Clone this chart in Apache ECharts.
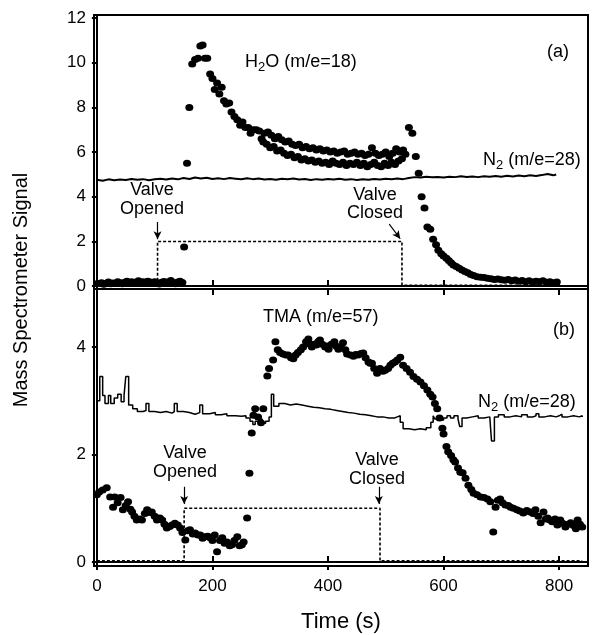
<!DOCTYPE html>
<html><head><meta charset="utf-8">
<script src="https://cdn.jsdelivr.net/npm/echarts@6/dist/echarts.min.js"></script>
<style>html,body{margin:0;padding:0;background:#fff}#c{width:592px;height:635px}</style>
</head><body><div id="c"></div>
<script>
// ---- tick values ----
const xTicks = [0, 200, 400, 600, 800];
const topYTicks = [0, 2, 4, 6, 8, 10, 12];
const botYTicks = [0, 2, 4];

// ---- (a) H2O (m/e=18) signal: [time, signal] ----
const h2oPoints = [
 [0,0.10],[4,0.12],[8,0.15],[12,0.08],[16,0.13],[20,0.18],[24,0.10],[28,0.14],[32,0.12],[36,0.20],
 [40,0.15],[44,0.10],[48,0.17],[52,0.22],[56,0.14],[60,0.19],[64,0.12],[68,0.18],[72,0.24],[76,0.16],
 [80,0.20],[84,0.13],[88,0.22],[92,0.18],[96,0.12],[100,0.20],[104,0.15],[108,0.09],[112,0.17],[116,0.21],
 [120,0.13],[124,0.19],[128,0.25],[132,0.15],[136,0.10],[140,0.18],[144,0.22],[148,0.16],
 [151,1.75],[156,5.5],[160,8.0],[165,9.95],[170,10.15],[175,10.2],[179,10.75],[183,10.8],[187,10.2],[191,10.2],
 [196,9.5],[200,9.3],[204,8.8],[208,9.1],[212,8.6],[216,8.9],[220,8.3],[224,8.15],[229,8.2],[233,7.8],
 [238,7.6],[243,7.45],[248,7.2],[252,7.35],[257,7.1],[262,7.1],[266,6.85],[271,7.0],[276,7.0],[281,6.95],[285,6.6],
 [290,6.85],[296,6.9],[302,6.75],[308,6.6],[314,6.7],[320,6.55],[326,6.45],[332,6.5],[338,6.35],[344,6.3],
 [350,6.35],[356,6.2],[362,6.25],[368,6.15],[374,6.2],[380,6.1],[386,6.15],[392,6.05],[398,6.1],[404,6.0],
 [410,6.05],[416,5.95],[422,6.0],[428,6.05],[434,5.9],[440,5.95],[446,6.0],[452,5.9],[458,5.95],[464,5.85],
 [470,5.9],[476,6.2],[482,5.95],[488,5.85],[494,5.9],[500,6.0],[506,5.8],[512,5.95],[518,6.15],[524,6.0],[530,6.1],
 [288,6.45],[294,6.35],[300,6.2],[306,6.25],[312,6.05],[318,6.1],[324,5.95],[330,5.85],[336,5.9],[342,5.75],
 [348,5.8],[354,5.65],[360,5.7],[366,5.6],[372,5.65],[378,5.55],[384,5.6],[390,5.5],[396,5.55],[402,5.45],
 [408,5.6],[414,5.5],[420,5.45],[426,5.55],[432,5.4],[438,5.5],[444,5.45],[450,5.55],[456,5.4],[462,5.5],
 [468,5.35],[474,5.45],[480,5.55],[486,5.4],[492,5.35],[498,5.5],[504,5.4],[510,5.55],[516,5.45],[522,5.6],
 [528,5.7],[534,5.9],
 [540,7.1],[546,6.85],[552,5.8],[557,5.05],[562,4.0],[567,3.5],[572,2.65],[577,2.55],[582,2.1],[587,1.85],
 [591,1.6],[596,1.45],[600,1.35],[605,1.25],[609,1.15],[613,1.05],[617,0.95],[622,0.88],[627,0.8],[632,0.72],
 [637,0.65],[642,0.6],[647,0.52],[652,0.48],[658,0.42],[664,0.4],[670,0.38],[676,0.35],[682,0.33],[688,0.3],
 [694,0.32],[700,0.28],[706,0.26],[712,0.3],[718,0.24],[724,0.27],[730,0.22],[736,0.25],[742,0.2],[748,0.24],
 [754,0.18],[760,0.22],[766,0.2],[772,0.24],[778,0.17],[784,0.2],[790,0.15],[796,0.18]
];

// ---- (a) N2 (m/e=28) trace ----
const n2TopPoints = [
 [0,4.76],[10,4.72],[20,4.78],[30,4.74],[40,4.77],[50,4.75],[60,4.80],[70,4.76],[80,4.79],[90,4.74],
 [100,4.78],[110,4.81],[120,4.77],[130,4.82],[140,4.78],[150,4.84],[160,4.80],[170,4.86],[180,4.82],[190,4.85],
 [200,4.80],[210,4.83],[220,4.79],[230,4.84],[240,4.81],[250,4.78],[260,4.83],[270,4.79],[280,4.82],[290,4.77],
 [300,4.80],[310,4.76],[320,4.81],[330,4.78],[340,4.82],[350,4.77],[360,4.80],[370,4.75],[380,4.79],[390,4.76],
 [400,4.80],[410,4.77],[420,4.81],[430,4.76],[440,4.79],[450,4.75],[460,4.78],[470,4.76],[480,4.80],[490,4.77],
 [500,4.81],[510,4.78],[520,4.82],[530,4.79],[540,4.84],[550,4.88],[560,4.86],[570,4.90],[580,4.87],[590,4.89],
 [600,4.86],[610,4.90],[620,4.88],[630,4.92],[640,4.89],[650,4.91],[660,4.88],[670,4.92],[680,4.90],[690,4.93],
 [700,4.90],[710,4.94],[720,4.91],[730,4.95],[740,4.92],[750,4.96],[760,4.93],[770,4.97],[780,5.02],[790,4.96],[795,5.0]
];

// ---- (a) valve state ----
const valveTop = [[0,0.04],[105,0.04],[105,2.0],[528,2.0],[528,0.04],[800,0.04]];

// ---- (b) TMA (m/e=57) signal ----
const tmaPoints = [
 [0,1.25],[4,1.30],[10,1.34],[17,1.38],[23,1.21],[28,1.02],[31,1.21],[36,1.10],[41,1.2],[45,0.97],
 [50,1.05],[54,1.12],[58,0.98],[61,0.93],[65,0.85],[69,0.78],[74,0.8],[78,0.78],[83,0.9],[87,0.97],
 [91,0.92],[95,0.93],[100,0.85],[104,0.78],[109,0.82],[113,0.78],[117,0.7],[121,0.63],[126,0.66],[130,0.69],
 [135,0.72],[140,0.69],[144,0.63],[148,0.55],[153,0.41],[157,0.58],[161,0.6],[166,0.52],[170,0.54],[175,0.5],
 [179,0.5],[183,0.44],[187,0.47],[192,0.48],[196,0.45],[200,0.4],[204,0.5],[208,0.19],[213,0.4],[217,0.45],
 [221,0.35],[225,0.37],[230,0.3],[234,0.32],[238,0.4],[243,0.47],[247,0.3],[251,0.32],[254,0.37],
 [260,0.82],[264,1.65],[268,2.4],[271,2.73],[274,2.85],[279,2.7],[284,2.59],[288,2.85],[295,3.46],[298,3.6],
 [305,3.76],[309,4.1],[313,3.95],[317,3.9],[322,3.87],[327,3.85],[331,3.85],[336,3.8],[340,3.78],[344,3.85],
 [348,3.9],[353,3.95],[357,4.0],[362,4.1],[366,4.15],[369,4.05],[372,4.0],[376,4.05],[380,4.04],[383,4.1],
 [386,4.13],[390,4.05],[395,4.0],[398,4.02],[401,3.96],[406,4.05],[411,4.1],[414,4.02],[418,3.96],[422,4.0],
 [426,4.08],[430,3.95],[433,3.87],[439,3.85],[444,3.83],[448,3.86],[452,3.85],[457,3.88],[461,3.89],[465,3.8],
 [470,3.72],[473,3.7],[476,3.7],[480,3.6],[485,3.51],[490,3.6],[495,3.55],[499,3.57],[504,3.6],[508,3.66],
 [512,3.7],[516,3.72],[520,3.76],[525,3.81],[530,3.66],[536,3.6],[542,3.53],[548,3.45],[554,3.4],[560,3.35],
 [566,3.28],[572,3.2],[577,3.12],[581,3.07],[585,2.95],[589,2.85],[593,2.68],[598,2.49],[600,2.38],[605,2.15],
 [608,2.05],[613,1.98],[617,1.9],[620,1.86],[625,1.75],[629,1.67],[633,1.66],[638,1.56],[643,1.43],[648,1.35],
 [652,1.28],[658,1.25],[664,1.21],[670,1.2],[676,1.17],[681,1.12],[686,0.56],[690,1.02],[694,1.15],[698,1.17],
 [702,1.1],[707,1.06],[712,1.05],[716,1.02],[721,1.0],[727,0.97],[732,0.95],[738,0.91],[744,0.96],[750,0.93],
 [755,0.9],[759,0.97],[764,0.85],[768,0.73],[773,0.93],[777,0.8],[780,0.82],[784,0.78],[788,0.75],[793,0.8],
 [797,0.69],[802,0.78],[806,0.72],[811,0.65],[816,0.7],[820,0.73],[825,0.68],[829,0.62],[832,0.78],[836,0.7],[840,0.65]
];

// ---- (b) N2 (m/e=28) step trace ----
const n2BotPoints = [
 [0,3.0],[5,3.45],[10,3.1],[14,2.95],[20,3.1],[24,2.95],[30,3.05],[36,3.12],[42,2.98],[47,3.1],
 [50,3.45],[55,2.92],[62,2.85],[70,2.8],[80,2.82],[85,2.95],[90,2.8],[100,2.78],[110,2.8],[120,2.77],
 [130,2.8],[134,2.95],[139,2.8],[150,2.78],[160,2.75],[170,2.78],[178,2.92],[183,2.76],[195,2.78],[205,2.74],
 [215,2.76],[225,2.72],[240,2.71],[250,2.72],[258,2.68],[265,2.62],[270,2.56],[274,2.62],[280,2.66],[286,2.58],
 [292,2.62],[298,2.7],[302,3.12],[306,2.9],[315,2.95],[325,2.92],[335,2.94],[345,2.92],[355,2.9],[365,2.88],
 [375,2.87],[385,2.85],[395,2.84],[405,2.82],[415,2.8],[425,2.78],[435,2.77],[445,2.75],[455,2.74],[465,2.72],
 [475,2.7],[485,2.7],[495,2.68],[505,2.68],[515,2.7],[520,2.72],[525,2.6],[530,2.48],[540,2.46],[550,2.48],
 [560,2.46],[570,2.5],[578,2.6],[582,2.72],[585,2.66],[590,2.7],[595,2.64],[600,2.68],[606,2.72],[612,2.68],
 [618,2.72],[625,2.66],[628,2.52],[632,2.68],[640,2.7],[650,2.72],[660,2.68],[670,2.7],[680,2.72],[683,2.25],
 [688,2.7],[695,2.74],[705,2.7],[715,2.72],[725,2.7],[735,2.74],[745,2.7],[755,2.72],[760,2.76],[765,2.7],
 [775,2.72],[785,2.7],[795,2.72],[800,2.75],[805,2.7],[815,2.72],[825,2.7],[835,2.72],[840,2.7]
];

// ---- (b) valve state ----
const valveBot = [[0,0.02],[151,0.02],[151,1.0],[490,1.0],[490,0.02],[840,0.02]];

// ---- arrows (valve opened / closed), data coords ----
const arrowsTop = [[[105,2.87],[105,2.1]], [[506,2.78],[525,2.12]]];
const arrowsBot = [[[151,1.40],[151,1.08]], [[488,1.40],[488,1.08]]];

const FONT = "'Liberation Sans', Arial, Helvetica, sans-serif";
const chart = echarts.init(document.getElementById('c'), null, {renderer:'canvas'});

const ctx = document.createElement('canvas').getContext('2d');
function tw(t, size){ ctx.font = size + 'px ' + FONT; return ctx.measureText(t).width; }
// text with subscript parts: parts = [[text, isSub]]
function richText(x, y, parts, size){
  const out = []; let cx = x;
  for (const [t, s] of parts){
    const fs = s ? Math.round(size*0.72) : size;
    out.push({type:'text', silent:true, style:{text:t, x:cx, y: s ? y + size*0.32 : y, font: fs + 'px ' + FONT, fill:'#000', textAlign:'left', textVerticalAlign:'middle'}});
    cx += tw(t, fs);
  }
  return out;
}
function ctext(t, x, y, size){
  return {type:'text', silent:true, style:{text:t, x:x, y:y, font:size+'px '+FONT, fill:'#000', textAlign:'center', textVerticalAlign:'middle'}};
}
const AS = 18;
const graphics = [].concat(
  richText(245, 62, [['H',0],['2',1],['O (m/e=18)',0]], AS),
  [ctext('(a)', 558, 52, AS)],
  richText(483, 160, [['N',0],['2',1],[' (m/e=28)',0]], AS),
  [ctext('Valve', 152, 190, AS), ctext('Opened', 152, 209, AS)],
  [ctext('Valve', 375, 195, AS), ctext('Closed', 375, 213, AS)],
  richText(263, 317, [['TMA (m/e=57)',0]], AS),
  [ctext('(b)', 564, 330, AS)],
  richText(478, 402, [['N',0],['2',1],[' (m/e=28)',0]], AS),
  [ctext('Valve', 185, 453, AS), ctext('Opened', 185, 472, AS)],
  [ctext('Valve', 377, 460, AS), ctext('Closed', 377, 479, AS)],
  [{type:'text', silent:true, x:21, y:290, rotation:Math.PI/2, style:{text:'Mass Spectrometer Signal', x:0, y:0, font:'20px '+FONT, fill:'#000', textAlign:'center', textVerticalAlign:'middle'}}],
  [ctext('Time (s)', 341, 622, 22)]
);

const axisLine = {show:true, lineStyle:{color:'#000', width:2}};
function xAx(grid, pos, opts){
  return Object.assign({type:'value', gridIndex:grid, position:pos, min:-5, max:850,
    axisLine:axisLine, splitLine:{show:false},
    axisTick:{show:true, inside:true, length:6, customValues:xTicks, lineStyle:{color:'#000', width:2}},
    axisLabel:{show:false}}, opts||{});
}
function arrowMark(list){
  return {silent:true, symbol:['none','arrow'], symbolSize:[6,8], label:{show:false},
    lineStyle:{type:'solid', color:'#000', width:1.2}, emphasis:{disabled:true},
    data: list.map(a => [{coord:a[0]},{coord:a[1]}])};
}
const dotStyle = {color:'#000', opacity:1, borderWidth:0};

chart.setOption({
  animation:false,
  backgroundColor:'#fff',
  grid:[
    {left:94, top:15, width:494, height:274, show:true, borderColor:'#000', borderWidth:2, backgroundColor:'transparent'},
    {left:94, top:289, width:494, height:277, show:true, borderColor:'#000', borderWidth:2, backgroundColor:'transparent'}
  ],
  xAxis:[
    xAx(0,'bottom'),
    xAx(1,'bottom',{axisLabel:{show:true, customValues:xTicks, fontSize:17, fontFamily:FONT, color:'#000', margin:12}}),
    xAx(1,'top'),
    xAx(1,'bottom',{axisTick:{show:true, inside:false, length:4, customValues:xTicks, lineStyle:{color:'#000', width:2}}})
  ],
  yAxis:[
    {type:'value', gridIndex:0, min:-0.13, max:12.14, axisLine:axisLine, splitLine:{show:false},
     axisTick:{show:true, inside:false, length:5, customValues:topYTicks, lineStyle:{color:'#000', width:2}},
     axisLabel:{customValues:topYTicks, fontSize:17, fontFamily:FONT, color:'#000', margin:8}},
    {type:'value', gridIndex:1, min:-0.075, max:5.08, axisLine:axisLine, splitLine:{show:false},
     axisTick:{show:true, inside:false, length:5, customValues:botYTicks, lineStyle:{color:'#000', width:2}},
     axisLabel:{customValues:botYTicks, fontSize:17, fontFamily:FONT, color:'#000', margin:8}}
  ],
  series:[
    {type:'line', xAxisIndex:0, yAxisIndex:0, data:valveTop, showSymbol:false, silent:true,
     lineStyle:{color:'#000', width:1.6, type:[3,2]}, markLine:arrowMark(arrowsTop)},
    {type:'line', xAxisIndex:0, yAxisIndex:0, data:n2TopPoints, showSymbol:false, silent:true,
     lineStyle:{color:'#000', width:2}},
    {type:'scatter', xAxisIndex:0, yAxisIndex:0, data:h2oPoints, symbol:'circle', symbolSize:[8,7], silent:true,
     itemStyle:dotStyle},
    {type:'line', xAxisIndex:1, yAxisIndex:1, data:valveBot, showSymbol:false, silent:true,
     lineStyle:{color:'#000', width:1.6, type:[3,2]}, markLine:arrowMark(arrowsBot)},
    {type:'line', xAxisIndex:1, yAxisIndex:1, data:n2BotPoints, step:'end', showSymbol:false, silent:true,
     lineStyle:{color:'#000', width:1.5}},
    {type:'scatter', xAxisIndex:1, yAxisIndex:1, data:tmaPoints, symbol:'circle', symbolSize:[8,7], silent:true,
     itemStyle:dotStyle}
  ],
  graphic: graphics
});
</script>
</body></html>
